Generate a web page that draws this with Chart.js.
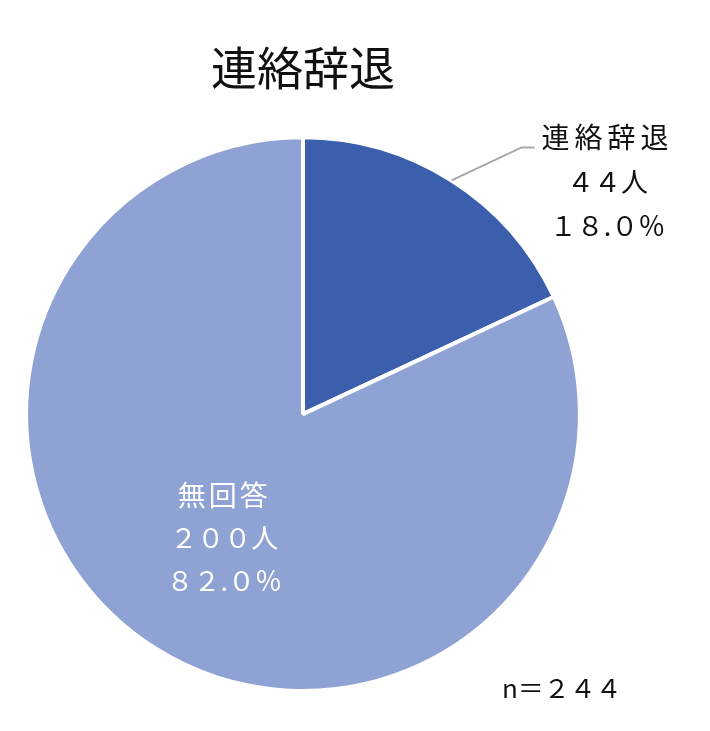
<!DOCTYPE html>
<html>
<head>
<meta charset="utf-8">
<script src="https://cdn.jsdelivr.net/npm/chart.js@4.4.1/dist/chart.umd.min.js"></script>
<style>
  html, body { margin: 0; padding: 0; background: #ffffff; }
  canvas { display: block; }
</style>
</head>
<body>
<canvas id="chart" width="710" height="731"></canvas>
<script>
// Data
const CATEGORIES = ['連絡辞退', '無回答'];
const COUNTS = [44, 200];
const PERCENT_LABELS = ['１８.０％', '８２.０％'];
const COUNT_LABELS = ['４４人', '２００人'];
const TOTAL_LABEL = 'n＝２４４';
const CHART_TITLE = '連絡辞退';

// Colors
const SLICE_COLORS = ['#3B5FAC', '#8FA2D4'];
const LABEL_COLORS = ['#111111', '#ffffff'];
const LEADER_COLOR = '#A6A6A6';

// Fonts
const FONT_FAMILY = '"Noto Sans CJK JP", "Noto Sans", sans-serif';

const sliceLabels = {
    id: 'sliceLabels',
    afterDatasetsDraw(chart) {
        const ctx = chart.ctx;
        const arcs = chart.getDatasetMeta(0).data;
        ctx.save();
        ctx.textAlign = 'center';
        ctx.textBaseline = 'middle';

        arcs.forEach((arc, i) => {
            const { x, y, startAngle, endAngle, outerRadius } = arc.getProps(['x', 'y', 'startAngle', 'endAngle', 'outerRadius'], true);
            const mid = (startAngle + endAngle) / 2;
            const lines = [CATEGORIES[i], COUNT_LABELS[i], PERCENT_LABELS[i]];
            ctx.fillStyle = LABEL_COLORS[i];

            if (i === 0) {
                // outside label with leader line
                const ex = x + Math.cos(mid) * outerRadius;
                const ey = y + Math.sin(mid) * outerRadius;
                const kx = ex + 70, ky = ey - 33;
                ctx.strokeStyle = LEADER_COLOR;
                ctx.lineWidth = 2;
                ctx.beginPath();
                ctx.moveTo(ex, ey);
                ctx.lineTo(kx, ky);
                ctx.lineTo(kx + 13, ky);
                ctx.stroke();
                const tx = kx + 86;
                lines.forEach((t, j) => {
                    ctx.font = (j === 0 ? '28px ' : '27px ') + FONT_FAMILY;
                    ctx.letterSpacing = j === 0 ? '5px' : '0px';
                    ctx.fillText(t, tx, ky - 10 + j * 44);
                });
            } else {
                const r = outerRadius * 0.53;
                const tx = x + Math.cos(mid) * r;
                const ty = y + Math.sin(mid) * r;
                lines.forEach((t, j) => {
                    ctx.font = (j === 0 ? '28px ' : '27px ') + FONT_FAMILY;
                    ctx.letterSpacing = j === 0 ? '3px' : '0px';
                    ctx.fillText(t, tx, ty + (j - 1) * 43);
                });
            }
        });

        // sample size note
        ctx.letterSpacing = '0px';
        ctx.fillStyle = '#111111';
        ctx.textAlign = 'left';
        ctx.font = '26px ' + FONT_FAMILY;
        ctx.fillText(TOTAL_LABEL, 502, chart.chartArea.bottom - 5);
        ctx.restore();
    }
};

const data = {
    labels: CATEGORIES,
    datasets: [{
        data: COUNTS,
        backgroundColor: SLICE_COLORS,
        borderColor: '#ffffff',
        borderWidth: 4
    }]
};

const options = {
    responsive: false,
    animation: false,
    layout: {
        padding: { left: 24, right: 128, top: 0, bottom: 38 }
    },
    plugins: {
        legend: { display: false },
        tooltip: { enabled: false },
        title: {
            display: true,
            text: CHART_TITLE,
            color: '#111111',
            font: { family: FONT_FAMILY, size: 46, weight: '400' },
            padding: { top: 40, bottom: 40 }
        }
    }
};

new Chart(document.getElementById('chart'), {
    type: 'pie',
    data: data,
    options: options,
    plugins: [sliceLabels]
});
</script>
</body>
</html>
